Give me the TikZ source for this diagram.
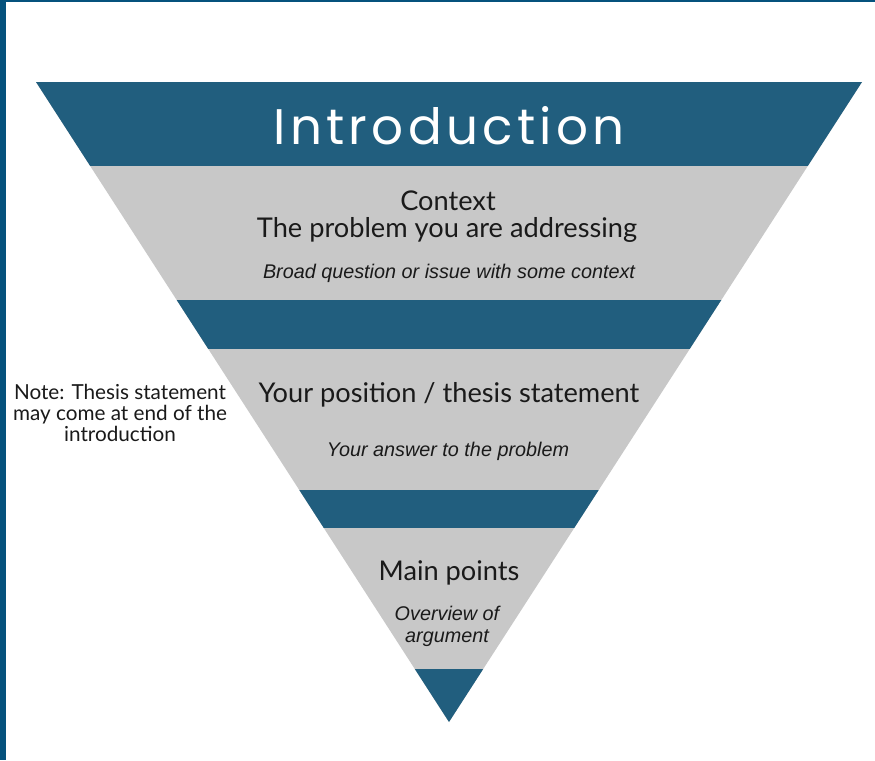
\documentclass[tikz,border=0pt]{standalone}
\usepackage{fontspec}
\setmainfont{Lato}
\newfontfamily\introfont{Poppins}[LetterSpace=8.5]
\newfontfamily\arialfont{Liberation Sans}
\definecolor{darkband}{HTML}{215E7E}
\definecolor{grayband}{HTML}{C8C8C8}
\definecolor{frame}{HTML}{05527D}
\definecolor{txt}{HTML}{1A1A1A}
\tikzset{
  x=1pt, y=-1pt,
  heading/.style={text=txt, font=\fontsize{27.2}{30}\selectfont, align=center, inner sep=0pt},
  subtext/.style={text=txt, font=\arialfont\itshape\fontsize{19.8}{22}\selectfont, align=center, inner sep=0pt},
  notetext/.style={text=txt, font=\fontsize{20.7}{21}\selectfont, align=center, inner sep=0pt},
}
\begin{document}
\begin{tikzpicture}
\useasboundingbox (0,0) rectangle (875,760);
\fill[white] (0,0) rectangle (875,760);
% frame
\fill[frame] (0,0) rectangle (6,760);
\fill[frame] (0,0) rectangle (875,2);
% funnel
\coordinate (tl) at (36,82);
\coordinate (tr) at (862,82);
\coordinate (apex) at (449,722);
\fill[grayband] (tl) -- (tr) -- (apex) -- cycle;
\begin{scope}
  \clip (tl) -- (tr) -- (apex) -- cycle;
  \fill[darkband] (0,82) rectangle (875,166);
  \fill[darkband] (0,300) rectangle (875,349);
  \fill[darkband] (0,490) rectangle (875,528);
  \fill[darkband] (0,669) rectangle (875,723);
\end{scope}
% texts
\node[text=white, font=\introfont\fontsize{50}{54}\selectfont, inner sep=0pt] (intro) at (449,126) {Introduction};
\node[heading] (context) at (448,201) {Context};
\node[heading] (problem) at (447,230) {The problem you are addressing};
\node[subtext] (broad) at (449,273) {Broad question or issue with some context};
\node[heading] (position) at (449,395) {Your position / thesis statement};
\node[subtext] (answer) at (448,451) {Your answer to the problem};
\node[heading] (main) at (449,573) {Main points};
\node[subtext] (overview) at (447,626) {Overview of\\argument};
\node[notetext] (note) at (120,413) {Note: Thesis statement\\may come at end of the\\introduction};
\end{tikzpicture}
\end{document}
